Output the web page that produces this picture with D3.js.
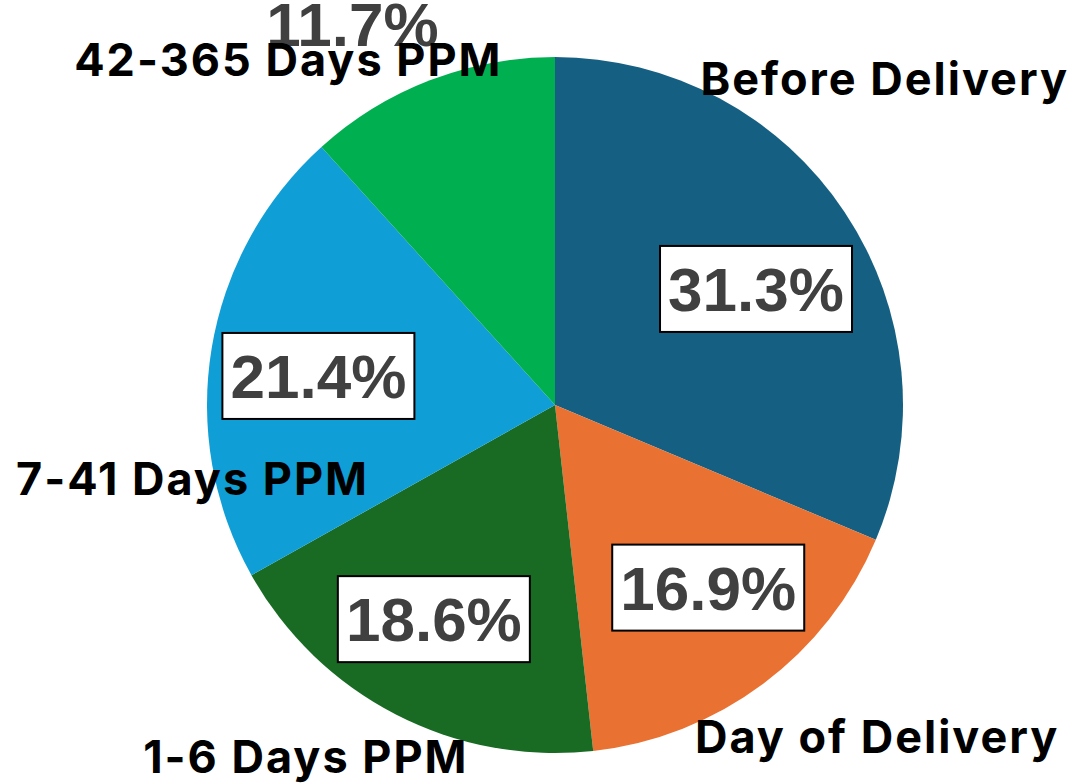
<!DOCTYPE html>
<html>
<head>
<meta charset="utf-8">
<script src="https://cdn.jsdelivr.net/npm/d3@7"></script>
<style>
  body { margin: 0; background: #fff; }
</style>
</head>
<body>
<svg id="chart"></svg>
<script>
// data
const categories = ["Before Delivery", "Day of Delivery", "1-6 Days PPM", "7-41 Days PPM", "42-365 Days PPM"];
const shares = [31.3, 16.9, 18.6, 21.4, 11.7];
const colors = ["#156082", "#E97132", "#196B24", "#0F9ED5", "#00B050"];

const W = 1076, H = 783;
const cx = 555, cy = 405, R = 348;

// where excel put the labels (angle in deg from 12 o'clock, radius as share of R)
const pctPos = [[60, 0.667], [140, 0.685], [209.5, 0.707], [277, 0.685], [332, 1.24]];
const catPos = [[45.3, 1.333], [135.8, 1.328], [215.3, 1.239], [258.5, 1.063], [322.3, 1.253]];
const boxed = [true, true, true, true, false];

const svg = d3.select("#chart").attr("width", W).attr("height", H);
const g = svg.append("g").attr("transform", `translate(${cx},${cy})`);

const pie = d3.pie().sort(null).value(d => d);
const arc = d3.arc().innerRadius(0).outerRadius(R);
const arcs = pie(shares);

g.selectAll("path.slice")
  .data(arcs)
  .enter()
  .append("path")
   .attr("class", "slice")
   .attr("d", arc)
   .attr("fill", (d, i) => colors[i]);

const polar = (a, r) => {
  const t = a * Math.PI / 180;
  return [r * R * Math.sin(t), -r * R * Math.cos(t)];
};

// percentage labels
const pct = g.selectAll("g.pct")
  .data(arcs)
  .enter()
  .append("g")
   .attr("class", "pct")
   .attr("transform", (d, i) => `translate(${polar(pctPos[i][0], pctPos[i][1])})`);

pct.filter((d, i) => boxed[i])
  .append("rect")
   .attr("x", -96).attr("y", -43)
   .attr("width", 192).attr("height", 86)
   .attr("fill", "#fff")
   .attr("stroke", "#000")
   .attr("stroke-width", 2);

pct.append("text")
   .attr("text-anchor", "middle")
   .attr("dy", "0.36em")
   .attr("font-family", "'Liberation Sans', Arial, sans-serif")
   .attr("font-weight", "bold")
   .attr("font-size", 62)
   .attr("fill", "#404040")
   .text((d, i) => shares[i].toFixed(1) + "%");

// category labels
g.selectAll("text.cat")
  .data(arcs)
  .enter()
  .append("text")
   .attr("class", "cat")
   .attr("x", (d, i) => polar(catPos[i][0], catPos[i][1])[0])
   .attr("y", (d, i) => polar(catPos[i][0], catPos[i][1])[1])
   .attr("text-anchor", "middle")
   .attr("dy", "0.36em")
   .attr("font-family", "Inter, 'Noto Sans', sans-serif")
   .attr("font-weight", "bold")
   .attr("font-size", 45)
   .attr("letter-spacing", 2)
   .attr("fill", "#000")
   .text((d, i) => categories[i]);
</script>
</body>
</html>
